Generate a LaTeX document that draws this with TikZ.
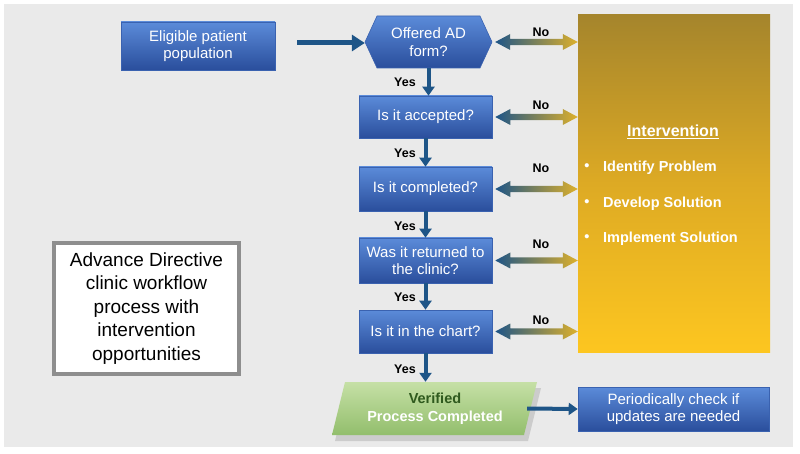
\documentclass[tikz,border=0pt]{standalone}
\usepackage{fontspec}
\setmainfont{Liberation Sans}
\usetikzlibrary{arrows.meta,calc}

\definecolor{bg}{HTML}{EAEAEA}
\definecolor{boxtop}{HTML}{5B8BD9}
\definecolor{boxbot}{HTML}{2A4E9C}
\definecolor{boxedge}{HTML}{3A62B0}
\definecolor{arrblue}{HTML}{1E5587}
\definecolor{arrgold}{HTML}{DDB02C}
\definecolor{goldtop}{HTML}{A5852C}
\definecolor{goldmid}{HTML}{DDAA24}
\definecolor{goldbot}{HTML}{FDC620}
\definecolor{greentop}{HTML}{C6E0A6}
\definecolor{greenbot}{HTML}{92BE6C}
\definecolor{greentext}{HTML}{2F5A1E}
\definecolor{titleedge}{HTML}{8E8E8E}

\newcommand\noarrow[1]{%
  \coordinate (a#1) at ($(#1.east)+(3,0)$);
  \coordinate (b#1) at (#1.east -| inter.west);
  \shade[left color=arrblue, right color=arrgold]
    (a#1) -- ($(a#1)+(15,-8)$) -- ($(a#1)+(15,-3.2)$) -- ($(b#1)+(-15,-3.2)$)
    -- ($(b#1)+(-15,-8)$) -- (b#1) -- ($(b#1)+(-15,8)$) -- ($(b#1)+(-15,3.2)$)
    -- ($(a#1)+(15,3.2)$) -- ($(a#1)+(15,8)$) -- cycle;
}

\begin{document}
\begin{tikzpicture}[x=1pt,y=-1pt,
  bluebox/.style={rectangle, draw=boxedge, line width=0.6pt, top color=boxtop,
    bottom color=boxbot, text=white, align=center,
    font=\fontsize{15}{17.5}\selectfont, inner sep=0pt},
  flow/.style={draw=arrblue, line width=4pt, -{Triangle[width=12pt,length=9pt]}},
  lbl/.style={font=\bfseries\fontsize{12.5}{14}\selectfont, text=black, inner sep=0pt},
  item/.style={font=\bfseries\fontsize{14.5}{16}\selectfont, text=white, inner sep=0pt, anchor=west},
]
\useasboundingbox (0,0) rectangle (800,454);
\fill[white] (0,0) rectangle (800,454);
\fill[bg] (4,4) rectangle (793,447);

% intervention panel
\node[rectangle, minimum width=192, minimum height=337, inner sep=0pt,
      top color=goldtop, bottom color=goldbot, middle color=goldmid] (inter) at (674,183.5) {};
\node[font=\bfseries\fontsize{16}{18}\selectfont, text=white, inner sep=0pt] (ititle) at (673,132) {\underline{Intervention}};
\node[item] (i1) at (603,168) {Identify Problem};
\node[item] (i2) at (603,204) {Develop Solution};
\node[item] (i3) at (603,239) {Implement Solution};
\node[item, anchor=center] (b1) at (587,167) {•};
\node[item, anchor=center] (b2) at (587,203) {•};
\node[item, anchor=center] (b3) at (587,238) {•};

% start box
\node[bluebox, minimum width=154, minimum height=48] (elig) at (198,46) {Eligible patient\\population};

% hexagon
\shade[top color=boxtop, bottom color=boxbot, draw=boxedge, line width=0.6pt]
  (365,42) -- (377,16) -- (480,16) -- (492,42) -- (480,68) -- (377,68) -- cycle;
\node[minimum width=127, minimum height=52, inner sep=0pt, text=white, align=center,
      font=\fontsize{15}{17.5}\selectfont] (offer) at (428.5,42) {Offered AD\\form?};

% decisions
\node[bluebox, minimum width=133, minimum height=42] (acc) at (425.5,117) {Is it accepted?};
\node[bluebox, minimum width=133, minimum height=44] (comp) at (425.5,189) {Is it completed?};
\node[bluebox, minimum width=133, minimum height=45] (ret) at (425.5,260.5) {Was it returned to\\the clinic?};
\node[bluebox, minimum width=133, minimum height=43] (chart) at (425.5,331.5) {Is it in the chart?};

% verified parallelogram
\fill[black!20] (348,388) -- (541,388) -- (528,441) -- (335,441) -- cycle;
\shade[top color=greentop, bottom color=greenbot]
  (345,382) -- (537,382) -- (524,435) -- (332,435) -- cycle;
\node[minimum width=190, minimum height=53, inner sep=0pt, align=center,
      font=\bfseries\fontsize{14.5}{18}\selectfont] (verif) at (435,408.5)
      {\textcolor{greentext}{Verified}\\\textcolor{white}{Process Completed}};

\node[bluebox, minimum width=191, minimum height=44] (per) at (673.5,409) {Periodically check if\\updates are needed};

% title box
\node[rectangle, draw=titleedge, line width=4pt, fill=white, minimum width=185,
      minimum height=131, inner sep=0pt, align=center,
      font=\fontsize{19}{23.5}\selectfont] (title) at (146.5,308.5)
      {Advance Directive\\clinic workflow\\process with\\intervention\\opportunities};

% flow arrows
\draw[draw=arrblue, line width=5pt, -{Triangle[width=16pt,length=13pt]}]
  ($(elig.east)+(22,-3)$) coordinate (e0) -- (e0 -| offer.west);
\draw[flow] (offer.south) -- (offer.south |- acc.north);
\draw[flow] (acc.south) -- (comp.north);
\draw[flow] (comp.south) -- (ret.north);
\draw[flow] (ret.south) -- (chart.north);
\draw[flow] (chart.south) -- (chart.south |- verif.north);
\draw[flow] ($(verif.east)+(-3,0)$) -- (per.west);

% yes labels
\node[lbl] (y1) at (405,82) {Yes};
\node[lbl] (y2) at (405,153) {Yes};
\node[lbl] (y3) at (405,226) {Yes};
\node[lbl] (y4) at (405,297) {Yes};
\node[lbl] (y5) at (405,369) {Yes};

% no arrows
\noarrow{offer}
\noarrow{acc}
\noarrow{comp}
\noarrow{ret}
\noarrow{chart}
\node[lbl] (n1) at (541,32) {No};
\node[lbl] (n2) at (541,105) {No};
\node[lbl] (n3) at (541,168) {No};
\node[lbl] (n4) at (541,244) {No};
\node[lbl] (n5) at (541,320) {No};
\end{tikzpicture}
\end{document}
